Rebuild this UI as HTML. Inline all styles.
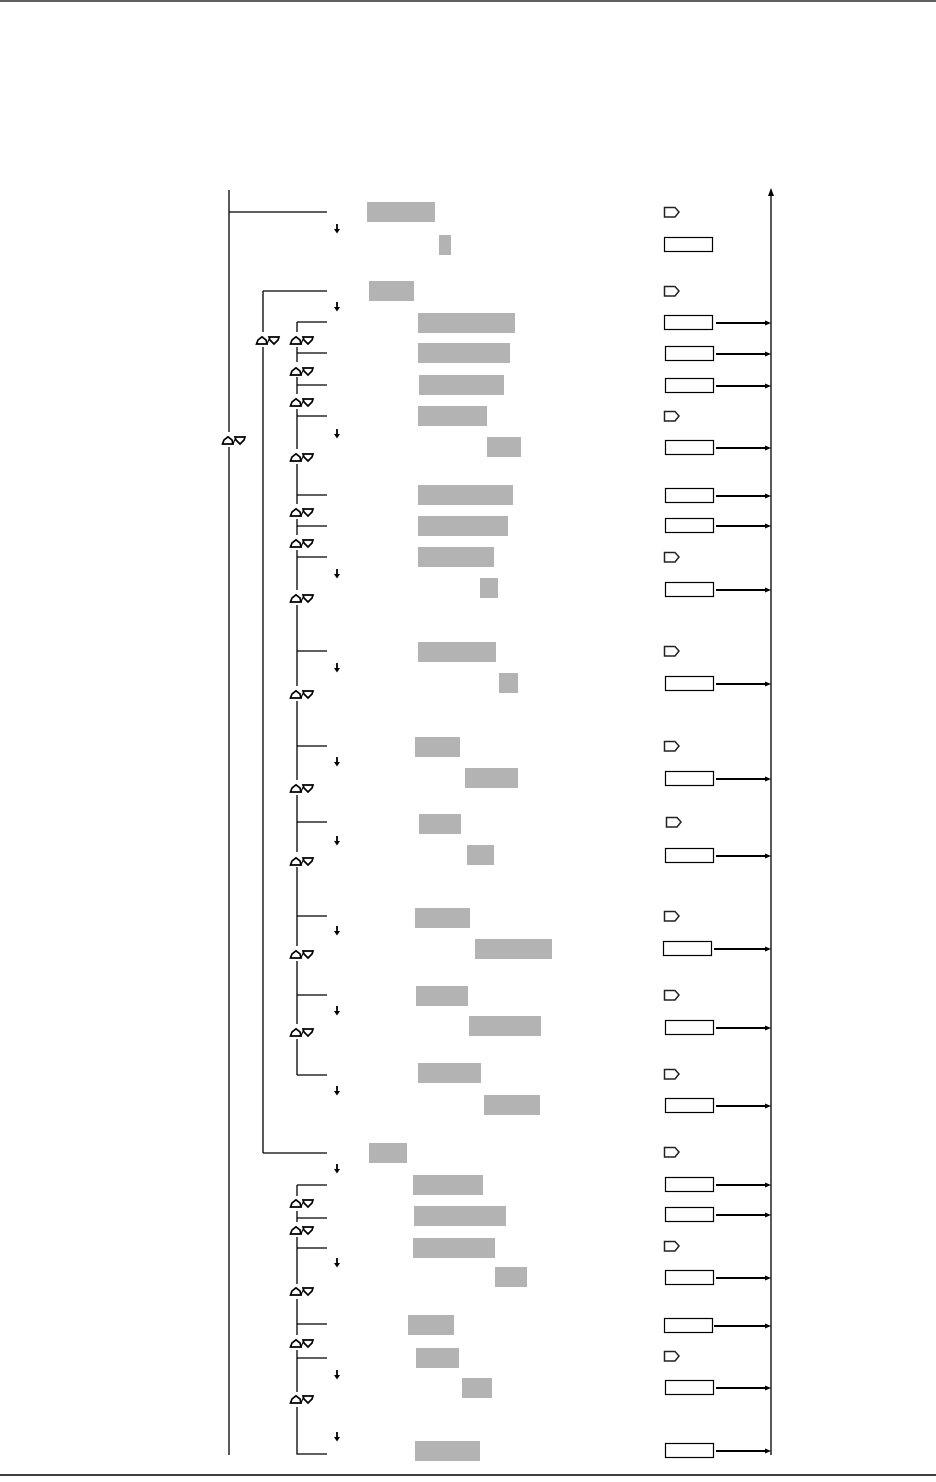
<!DOCTYPE html>
<html><head><meta charset="utf-8"><style>html,body{margin:0;padding:0;background:#fff;width:936px;height:1482px;overflow:hidden}</style></head>
<body>
<svg width="936" height="1482" viewBox="0 0 936 1482" xmlns="http://www.w3.org/2000/svg">
<defs>
<g id="ud"><path d="M0.5,8 L2,4 L6,0.8 L10,4 L11,8 Z" fill="#fff" stroke="#000" stroke-width="1.7"/><path d="M11,8 L14,1" stroke="#000" stroke-width="1.1"/><path d="M13,1 L23,1 L22,4 L18,8 L14,4 Z" fill="#fff" stroke="#000" stroke-width="1.7"/></g>
<g id="tag"><path d="M0.5,0.5 H11 L15,5 L11,10 H0.5 Z" fill="#fff" stroke="#222" stroke-width="1.5"/></g>
<g id="da"><path d="M0,0 V6" stroke="#000" stroke-width="1.8"/><path d="M-3,5 L0,9.5 L3,5 Z" fill="#000"/></g>
<g id="ah"><path d="M-6,-2.5 L0,0 L-6,2.5 Z" fill="#000"/></g>
</defs>
<line x1="0" y1="1" x2="936" y2="1" stroke="#000" stroke-width="1.2"/>
<line x1="0" y1="1475" x2="936" y2="1475" stroke="#000" stroke-width="1.5"/>
<g fill="#b3b3b3">
<rect x="367" y="202" width="68" height="20"/><rect x="439" y="235" width="12" height="20"/>
<rect x="369" y="281" width="45" height="20"/><rect x="418" y="313" width="97" height="20"/>
<rect x="418" y="343" width="92" height="20"/><rect x="419" y="375" width="85" height="20"/>
<rect x="418" y="406" width="69" height="20"/><rect x="487" y="437" width="34" height="20"/>
<rect x="418" y="485" width="95" height="20"/><rect x="418" y="516" width="90" height="20"/>
<rect x="418" y="547" width="76" height="20"/><rect x="480" y="578" width="18" height="20"/>
<rect x="418" y="642" width="78" height="20"/><rect x="499" y="673" width="19" height="20"/>
<rect x="415" y="737" width="45" height="20"/><rect x="465" y="768" width="53" height="20"/>
<rect x="419" y="814" width="42" height="20"/><rect x="467" y="845" width="27" height="20"/>
<rect x="415" y="908" width="55" height="20"/><rect x="475" y="939" width="77" height="20"/>
<rect x="416" y="986" width="52" height="20"/><rect x="469" y="1016" width="72" height="20"/>
<rect x="418" y="1063" width="63" height="20"/><rect x="484" y="1095" width="56" height="20"/>
<rect x="369" y="1143" width="38" height="20"/><rect x="413" y="1175" width="70" height="20"/>
<rect x="414" y="1206" width="92" height="20"/><rect x="413" y="1238" width="82" height="20"/>
<rect x="495" y="1267" width="32" height="20"/><rect x="408" y="1315" width="46" height="20"/>
<rect x="416" y="1348" width="43" height="20"/><rect x="462" y="1378" width="30" height="20"/>
<rect x="415" y="1441" width="65" height="20"/>
</g>
<g stroke="#000" stroke-width="1.3" fill="none">
<path d="M229,190 V1455 M229,212 H327"/>
<path d="M263,340 V1153 M263,291 H327 M263,1153 H327 M263,291 V333"/>
<path d="M297,322 V1075 M297,1075 H327"/>
<path d="M297,322 H327 M297,353 H327 M297,385 H327 M297,416 H327 M297,495 H327 M297,526 H327 M297,557 H327 M297,651 H327 M297,746 H327 M297,822 H327 M297,916 H327 M297,995 H327"/>
<path d="M297,1185 V1454 H327 M297,1185 H327 M297,1218 H327 M297,1248 H327 M297,1324 H327 M297,1358 H327"/>
<path d="M771,192 V1455"/>
</g>
<path d="M768,196 L771,188 L774,196 Z" fill="#000"/>
<g fill="#fff">
<rect x="220" y="432" width="32" height="15"/><rect x="254" y="332" width="66" height="15"/>
<rect x="288" y="362" width="32" height="15"/><rect x="288" y="394" width="32" height="15"/>
<rect x="288" y="449" width="32" height="15"/><rect x="288" y="504" width="32" height="15"/>
<rect x="288" y="535" width="32" height="15"/><rect x="288" y="590" width="32" height="15"/>
<rect x="288" y="686" width="32" height="15"/><rect x="288" y="780" width="32" height="15"/>
<rect x="288" y="852" width="32" height="15"/><rect x="288" y="946" width="32" height="15"/>
<rect x="288" y="1024" width="32" height="15"/><rect x="288" y="1196" width="32" height="15"/>
<rect x="288" y="1222" width="32" height="15"/><rect x="288" y="1284" width="32" height="15"/>
<rect x="288" y="1335" width="32" height="15"/><rect x="288" y="1392" width="32" height="15"/>
</g>
<use href="#ud" x="222" y="436"/><use href="#ud" x="256" y="336"/><use href="#ud" x="290" y="336"/>
<use href="#ud" x="290" y="367"/><use href="#ud" x="290" y="398"/><use href="#ud" x="290" y="453"/>
<use href="#ud" x="290" y="508"/><use href="#ud" x="290" y="539"/><use href="#ud" x="290" y="594"/>
<use href="#ud" x="290" y="690"/><use href="#ud" x="290" y="784"/><use href="#ud" x="290" y="857"/>
<use href="#ud" x="290" y="950"/><use href="#ud" x="290" y="1028"/><use href="#ud" x="290" y="1199"/>
<use href="#ud" x="290" y="1226"/><use href="#ud" x="290" y="1287"/><use href="#ud" x="290" y="1339"/>
<use href="#ud" x="290" y="1395"/>
<use href="#da" x="337" y="224"/><use href="#da" x="337" y="302"/><use href="#da" x="337" y="429"/>
<use href="#da" x="337" y="569"/><use href="#da" x="337" y="663"/><use href="#da" x="337" y="757"/>
<use href="#da" x="337" y="836"/><use href="#da" x="337" y="926"/><use href="#da" x="337" y="1006"/>
<use href="#da" x="337" y="1086"/><use href="#da" x="337" y="1164"/><use href="#da" x="337" y="1258"/>
<use href="#da" x="337" y="1370"/><use href="#da" x="337" y="1432"/>
<use href="#tag" x="664" y="207"/><use href="#tag" x="664" y="286"/><use href="#tag" x="664" y="411"/>
<use href="#tag" x="664" y="552"/><use href="#tag" x="664" y="646"/><use href="#tag" x="664" y="741"/>
<use href="#tag" x="666" y="817"/><use href="#tag" x="664" y="911"/><use href="#tag" x="664" y="990"/>
<use href="#tag" x="664" y="1069"/><use href="#tag" x="664" y="1147"/><use href="#tag" x="664" y="1241"/>
<use href="#tag" x="664" y="1351"/>
<g fill="#fff" stroke="#000" stroke-width="1.2">
<rect x="664.5" y="237.5" width="48" height="14"/><rect x="664.5" y="315.5" width="48" height="14"/>
<rect x="665.5" y="346.5" width="48" height="14"/><rect x="665.5" y="378.5" width="48" height="14"/>
<rect x="665.5" y="440.5" width="48" height="14"/><rect x="665.5" y="488.5" width="48" height="14"/>
<rect x="665.5" y="518.5" width="48" height="14"/><rect x="665.5" y="582.5" width="48" height="14"/>
<rect x="665.5" y="676.5" width="48" height="14"/><rect x="665.5" y="771.5" width="48" height="14"/>
<rect x="665.5" y="848.5" width="48" height="14"/><rect x="663.5" y="941.5" width="48" height="14"/>
<rect x="665.5" y="1020.5" width="48" height="14"/><rect x="665.5" y="1098.5" width="48" height="14"/>
<rect x="665.5" y="1177.5" width="48" height="14"/><rect x="665.5" y="1207.5" width="48" height="14"/>
<rect x="665.5" y="1270.5" width="48" height="14"/><rect x="664.5" y="1318.5" width="48" height="14"/>
<rect x="665.5" y="1380.5" width="48" height="14"/><rect x="665.5" y="1443.5" width="48" height="14"/>
</g>
<g stroke="#000" stroke-width="2">
<path d="M716,323 H767 M716,354 H767 M716,386 H767 M716,448 H767 M716,496 H767 M716,526 H767 M716,590 H767 M716,684 H767 M716,779 H767 M716,856 H767 M714,949 H767 M716,1028 H767 M716,1106 H767 M716,1185 H767 M716,1215 H767 M716,1278 H767 M714,1326 H767 M716,1388 H767 M716,1451 H767"/>
</g>
<use href="#ah" x="771" y="323"/><use href="#ah" x="771" y="354"/><use href="#ah" x="771" y="386"/>
<use href="#ah" x="771" y="448"/><use href="#ah" x="771" y="496"/><use href="#ah" x="771" y="526"/>
<use href="#ah" x="771" y="590"/><use href="#ah" x="771" y="684"/><use href="#ah" x="771" y="779"/>
<use href="#ah" x="771" y="856"/><use href="#ah" x="771" y="949"/><use href="#ah" x="771" y="1028"/>
<use href="#ah" x="771" y="1106"/><use href="#ah" x="771" y="1185"/><use href="#ah" x="771" y="1215"/>
<use href="#ah" x="771" y="1278"/><use href="#ah" x="771" y="1326"/><use href="#ah" x="771" y="1388"/>
<use href="#ah" x="771" y="1451"/>
</svg>
</body></html>
